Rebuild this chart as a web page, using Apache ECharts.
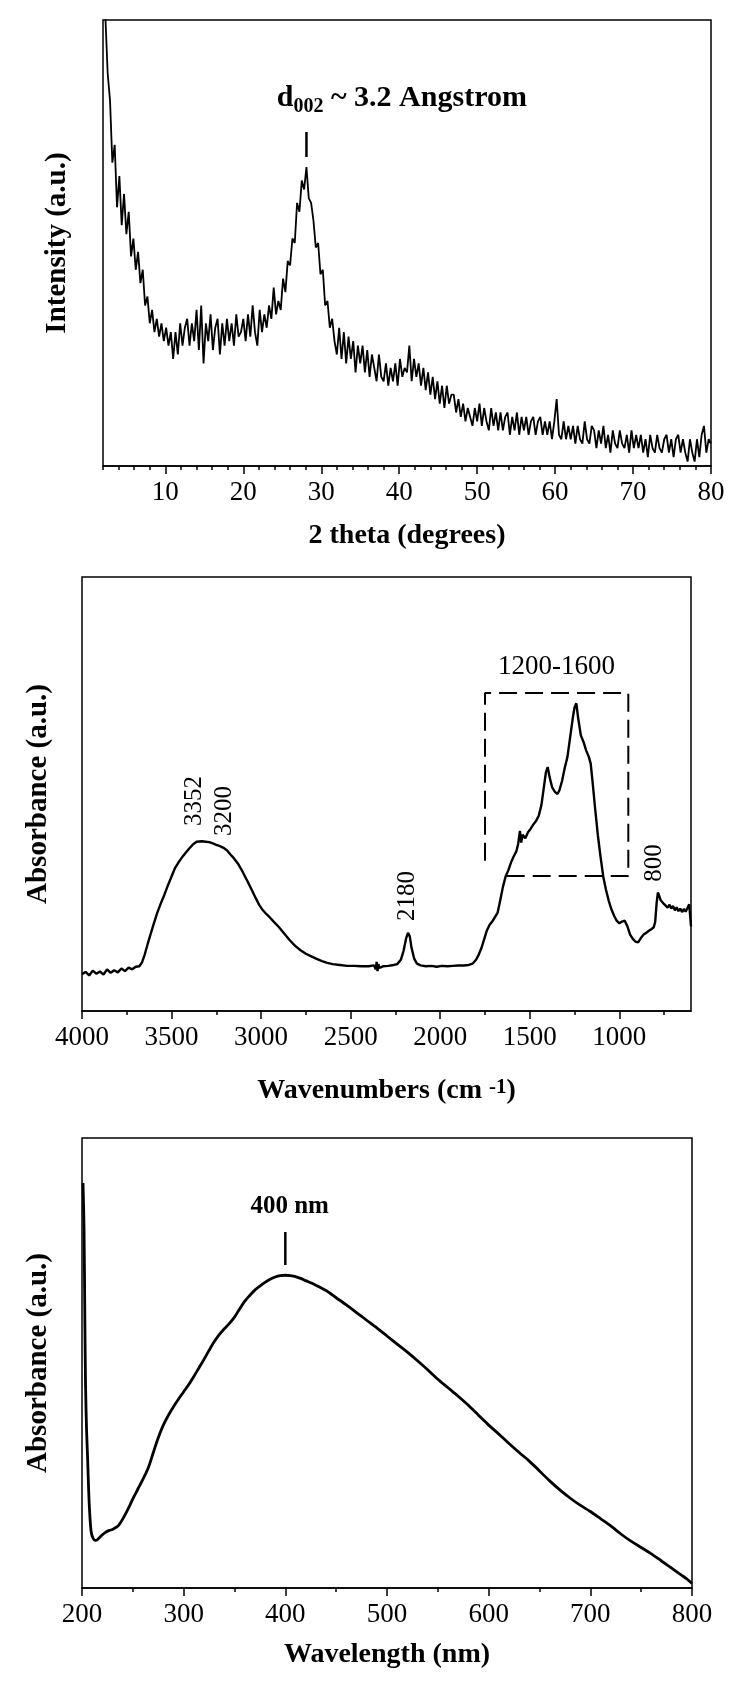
<!DOCTYPE html>
<html>
<head>
<meta charset="utf-8">
<script src="https://cdn.jsdelivr.net/npm/echarts@6/dist/echarts.min.js"></script>
<style>
html,body{margin:0;padding:0;background:#fff;}
#c{width:738px;height:1681px;}
</style>
</head>
<body>
<div id="c"></div>
<script>
// ---------- Panel 1: XRD ----------
const xrdStart = 2.0;
const xrdStep = 0.3;
const xrdIntensity = [
  130, 101, 88, 82, 68, 72, 58, 65, 54, 61,
  52, 57, 47, 51, 44, 48, 41, 44, 36, 38,
  32, 35, 30, 33, 29, 32, 28, 31, 27, 30,
  24, 30, 25, 32, 27, 31, 33, 27, 32, 28,
  35, 26, 36, 23, 32, 28, 34, 26, 31, 33,
  25, 32, 27, 33, 28, 32, 27, 34, 29, 30,
  33, 28, 34, 29, 36, 30, 27, 35, 30, 34,
  31, 36, 33, 40, 34, 37, 35, 42, 39, 46,
  45, 51, 50, 59, 57, 64, 62, 67, 60, 59,
  55, 49, 50, 43, 44, 36, 37, 31, 33, 28,
  25, 31, 24, 30, 23, 29, 24, 28, 21, 27,
  23, 27, 21, 26, 20, 25, 22, 19, 25, 20,
  19, 23, 18, 22, 19, 23, 18, 24, 20, 22,
  21, 27, 19, 24, 20, 23, 18, 22, 17, 21,
  16, 20, 15, 19, 14, 18, 13, 18, 14, 16,
  16, 12, 15, 11, 14, 10, 13, 11, 9, 13,
  10, 14, 9, 13, 10, 8, 13, 9, 12, 8,
  12, 8, 11, 12, 7, 11, 8, 12, 7, 11,
  8, 11, 7, 10, 11, 7, 10, 11, 7, 10,
  7, 10, 6, 10, 15, 7, 6, 10, 6, 9,
  6, 9, 5, 9, 6, 5, 10, 6, 5, 9,
  8, 4, 8, 5, 9, 4, 7, 3, 8, 5,
  4, 8, 5, 4, 7, 3, 8, 4, 7, 4,
  7, 3, 6, 2, 7, 4, 3, 7, 4, 3,
  6, 7, 3, 6, 2, 6, 7, 3, 6, 3,
  1, 6, 3, 1, 6, 2, 7, 9, 3, 6,
  5
];
const xrdTickLabels = [10, 20, 30, 40, 50, 60, 70, 80];
const xrdMinorTicks = [2, 4, 6, 8, 12, 14, 16, 18, 22, 24, 26, 28, 32, 34, 36, 38, 42, 44, 46, 48, 52, 54, 56, 58, 62, 64, 66, 68, 72, 74, 76, 78];
const xrdPeakMarker = [[28.1, 69.3], [28.1, 74.9]];
const xrdPeakLabelPos = [24.3, 82.5];

// ---------- Panel 2: FTIR ----------
const ftirWavenumber = [
  4000, 3980, 3960, 3940, 3920, 3900, 3880, 3860, 3840, 3820,
  3800, 3780, 3760, 3740, 3720, 3700, 3680, 3665, 3650, 3635,
  3620, 3600, 3580, 3560, 3540, 3520, 3500, 3480, 3460, 3440,
  3420, 3400, 3380, 3360, 3350, 3330, 3310, 3290, 3270, 3250,
  3230, 3210, 3190, 3170, 3150, 3130, 3110, 3090, 3070, 3050,
  3030, 3010, 2990, 2970, 2950, 2930, 2900, 2870, 2840, 2810,
  2780, 2750, 2720, 2690, 2660, 2630, 2600, 2560, 2520, 2480,
  2440, 2400, 2370, 2360, 2355, 2350, 2345, 2340, 2320, 2290,
  2260, 2240, 2220, 2205, 2190, 2180, 2170, 2160, 2145, 2130,
  2110, 2080, 2050, 2020, 1990, 1960, 1930, 1900, 1870, 1840,
  1820, 1800, 1785, 1770, 1755, 1740, 1725, 1710, 1695, 1680,
  1665, 1650, 1635, 1620, 1605, 1590, 1575, 1565, 1555, 1548,
  1540, 1525, 1510, 1495, 1480, 1465, 1450, 1435, 1420, 1410,
  1400, 1390, 1375, 1360, 1345, 1335, 1320, 1305, 1290, 1275,
  1260, 1250, 1240, 1230, 1215, 1200, 1185, 1170, 1160, 1150,
  1135, 1120, 1105, 1090, 1075, 1060, 1045, 1030, 1015, 1000,
  985, 970, 955, 940, 925, 910, 895, 880, 865, 850,
  835, 820, 808, 800, 792, 785, 778, 770, 760, 750,
  740, 730, 720, 710, 700, 690, 680, 670, 660, 650,
  640, 630, 620, 610, 605, 600
];
const ftirAbsorbance = [
  8.5, 9.0, 8.2, 9.3, 8.6, 9.1, 8.4, 9.6, 8.8, 9.4,
  8.9, 9.8, 9.2, 10.0, 9.6, 10.2, 10.3, 11.2, 13.0, 15.2,
  17.3, 20.0, 22.6, 24.8, 26.8, 29.0, 31.0, 33.0, 34.3, 35.5,
  36.5, 37.5, 38.4, 39.0, 39.2, 39.1, 39.0, 38.9, 38.6, 38.3,
  38.0, 37.6, 37.0, 36.0, 35.1, 34.0, 32.6, 31.0, 29.4, 27.7,
  26.0, 24.4, 23.2, 22.3, 21.5, 20.6, 19.3, 17.8, 16.3, 15.0,
  14.0, 13.2, 12.6, 12.0, 11.5, 11.1, 10.8, 10.6, 10.4, 10.4,
  10.3, 10.3, 10.5, 9.6, 11.3, 9.2, 10.8, 9.9, 10.3, 10.4,
  10.6, 10.8, 11.8, 13.8, 16.8, 18.0, 17.2, 14.5, 12.0, 10.9,
  10.5, 10.3, 10.4, 10.2, 10.4, 10.3, 10.4, 10.5, 10.5, 10.6,
  10.9, 11.8, 13.0, 14.5, 16.5, 18.5, 19.8, 20.6, 21.6, 22.6,
  25.5, 28.6, 31.0, 32.4, 34.2, 35.6, 36.8, 38.5, 41.5, 38.8,
  40.6, 39.8, 41.2, 42.0, 43.0, 43.8, 45.0, 47.5, 52.0, 55.0,
  56.2, 54.0, 51.5, 50.5, 50.0, 50.8, 53.0, 56.0, 58.5, 63.0,
  67.5, 70.0, 70.9, 67.5, 63.5, 62.0, 60.0, 58.5, 57.0, 53.0,
  46.5, 40.5, 35.5, 31.0, 28.0, 25.5, 23.5, 22.0, 20.8, 20.2,
  20.6, 20.8, 19.5, 17.6, 16.6, 16.0, 15.8, 16.8, 17.6, 18.0,
  18.5, 18.9, 19.3, 20.5, 24.8, 27.3, 26.6, 25.6, 25.2, 24.6,
  24.9, 23.8, 24.5, 23.6, 24.2, 23.2, 23.9, 23.0, 23.6, 22.8,
  23.5, 22.9, 23.7, 24.6, 24.9, 19.5
];
const ftirTickLabels = [4000, 3500, 3000, 2500, 2000, 1500, 1000];
const ftirMinorTicks = [3750, 3250, 2750, 2250, 1750, 1250, 750];
const ftirPeakLabels = ['3352', '3200', '2180', '800'];
const ftirPeakLabelPos = [[3370, 48.4], [3203, 46.1], [2182, 26.5], [805, 34.1]];
const ftirRangeLabel = '1200-1600';
const ftirRangeLabelPos = [1351, 79.3];
const ftirRangeBox = [[1750, 34.6], [1750, 73.3], [950, 73.3], [950, 31.1], [1640, 31.1]];

// ---------- Panel 3: UV-Vis ----------
const uvWavelength = [
  201, 202, 202.8, 203.5, 204.5, 205.5, 206.5, 207.5, 209, 211,
  213, 215, 218, 221, 224, 227, 230, 233, 236, 240,
  245, 250, 255, 260, 265, 270, 275, 280, 285, 290,
  295, 300, 305, 310, 315, 320, 325, 330, 335, 340,
  345, 350, 355, 360, 365, 370, 375, 380, 385, 390,
  395, 400, 405, 410, 415, 420, 430, 440, 450, 460,
  470, 480, 490, 500, 510, 520, 530, 540, 550, 560,
  570, 580, 590, 600, 610, 620, 630, 640, 650, 660,
  670, 680, 690, 700, 710, 720, 730, 740, 750, 760,
  770, 780, 790, 795, 800
];
const uvAbsorbance = [
  90.0, 80.0, 60.0, 45.0, 35.0, 29.0, 22.0, 17.0, 12.5, 11.0,
  10.6, 10.7, 11.4, 12.0, 12.5, 12.8, 13.0, 13.4, 13.9, 15.3,
  17.4, 19.8, 22.0, 24.2, 26.6, 30.0, 33.4, 36.2, 38.4, 40.3,
  42.0, 43.6, 45.2, 47.0, 48.9, 50.8, 52.8, 54.7, 56.3, 57.6,
  58.8, 60.2, 62.0, 63.7, 65.0, 66.2, 67.1, 67.9, 68.6, 69.1,
  69.4, 69.5, 69.4, 69.2, 68.8, 68.3, 67.3, 66.1, 64.5, 62.9,
  61.2, 59.5, 57.8, 56.0, 54.2, 52.4, 50.5, 48.5, 46.4, 44.5,
  42.6, 40.6, 38.4, 36.2, 34.2, 32.1, 30.1, 28.2, 26.0, 23.8,
  21.8, 20.0, 18.4, 17.0, 15.4, 13.8, 12.0, 10.4, 9.0, 7.6,
  6.0, 4.4, 2.8, 2.0, 1.0
];
const uvTickLabels = [200, 300, 400, 500, 600, 700, 800];
const uvMinorTicks = [250, 350, 450, 550, 650, 750];
const uvPeakMarker = [[400, 71.8], [400, 79.1]];
const uvPeakLabel = '400 nm';
const uvPeakLabelPos = [404.3, 84.7];

// ---------- build ----------
const FONT = 'Liberation Serif';
const BLACK = '#000';

const xrdData = xrdIntensity.map((v, i) => [+(xrdStart + i * xrdStep).toFixed(2), v]);
const ftirData = ftirWavenumber.map((w, i) => [w, ftirAbsorbance[i]]);
const uvData = uvWavelength.map((w, i) => [w, uvAbsorbance[i]]);

const grids = [
  {left: 103, top: 20, width: 608, height: 446},
  {left: 82, top: 577, width: 609, height: 434},
  {left: 82, top: 1138, width: 610, height: 450}
];

const titleStyle = {fontFamily: FONT, fontSize: 28, fontWeight: 'bold', color: BLACK};
const plainText = {textBorderWidth: 0, textBorderColor: 'transparent', textShadowBlur: 0, opacity: 1};

function majorX(g, min, max, inverse, ticks, name, nameGap, rich) {
  return {
    type: 'value', gridIndex: g, min: min, max: max, inverse: inverse, position: 'bottom',
    axisLine: {show: true, onZero: false, lineStyle: {color: BLACK, width: 1.5}},
    axisTick: {show: true, inside: false, length: 8, customValues: ticks, lineStyle: {color: BLACK, width: 1.5}},
    axisLabel: {show: true, customValues: ticks, margin: 13, color: BLACK, fontFamily: FONT, fontSize: 27,
      formatter: v => String(v)},
    splitLine: {show: false},
    name: name, nameLocation: 'middle', nameGap: nameGap,
    nameTextStyle: Object.assign({}, titleStyle, rich ? {rich: rich} : {})
  };
}
function minorX(g, min, max, inverse, ticks) {
  return {
    type: 'value', gridIndex: g, min: min, max: max, inverse: inverse, position: 'top',
    offset: -grids[g].height,
    axisLine: {show: false, onZero: false},
    axisTick: {show: true, inside: true, length: 4, customValues: ticks, lineStyle: {color: BLACK, width: 1.5}},
    axisLabel: {show: false},
    splitLine: {show: false}
  };
}
function yAx(g, name, gap) {
  return {
    type: 'value', gridIndex: g, min: 0, max: 100,
    axisLine: {show: false}, axisTick: {show: false}, axisLabel: {show: false}, splitLine: {show: false},
    name: name, nameLocation: 'middle', nameRotate: 90, nameGap: gap,
    nameTextStyle: Object.assign({}, titleStyle, {fontSize: 29})
  };
}

const option = {
  animation: false,
  backgroundColor: '#fff',
  grid: grids.map(g => Object.assign({show: true, borderColor: BLACK, borderWidth: 1.5, backgroundColor: 'transparent', containLabel: false}, g)),
  xAxis: [
    majorX(0, 2, 80, false, xrdTickLabels, '2 theta (degrees)', 56),
    minorX(0, 2, 80, false, xrdMinorTicks),
    majorX(1, 600, 4000, true, ftirTickLabels, 'Wavenumbers (cm {sup|-1})', 66,
      {sup: {fontFamily: FONT, fontSize: 21, fontWeight: 'bold', color: BLACK, verticalAlign: 'top', lineHeight: 18}}),
    minorX(1, 600, 4000, true, ftirMinorTicks),
    majorX(2, 200, 800, false, uvTickLabels, 'Wavelength (nm)', 53),
    minorX(2, 200, 800, false, uvMinorTicks)
  ],
  yAxis: [yAx(0, 'Intensity (a.u.)', 31), yAx(1, 'Absorbance (a.u.)', 29), yAx(2, 'Absorbance (a.u.)', 29)],
  series: [
    {type: 'line', xAxisIndex: 0, yAxisIndex: 0, data: xrdData, showSymbol: false, symbol: 'none', clip: true,
      lineStyle: {color: BLACK, width: 1.8}, silent: true},
    {type: 'line', xAxisIndex: 0, yAxisIndex: 0, data: xrdPeakMarker, symbol: 'none',
      lineStyle: {color: BLACK, width: 2.5}, silent: true},
    {type: 'scatter', xAxisIndex: 0, yAxisIndex: 0, data: [xrdPeakLabelPos], symbolSize: 0, silent: true,
      itemStyle: {color: BLACK},
      label: Object.assign({show: true, position: [0, 0], align: 'left', verticalAlign: 'middle',
        formatter: 'd{sub|002} ~ 3.2 Angstrom',
        fontFamily: FONT, fontSize: 30, fontWeight: 'bold', color: BLACK,
        rich: {sub: {fontFamily: FONT, fontSize: 20, fontWeight: 'bold', color: BLACK, padding: [18, 0, 0, 0]}}}, plainText)},

    {type: 'line', xAxisIndex: 2, yAxisIndex: 1, data: ftirData, showSymbol: false, symbol: 'none', clip: true,
      lineStyle: {color: BLACK, width: 2.4}, silent: true},
    {type: 'line', xAxisIndex: 2, yAxisIndex: 1, data: ftirRangeBox, symbol: 'none',
      lineStyle: {color: BLACK, width: 2, type: [18, 8]}, silent: true},
    {type: 'scatter', xAxisIndex: 2, yAxisIndex: 1, symbolSize: 0, silent: true, itemStyle: {color: BLACK},
      data: ftirPeakLabels.map((t, i) => ({value: ftirPeakLabelPos[i], name: t})),
      label: Object.assign({show: true, position: [0, 0], align: 'center', verticalAlign: 'middle', rotate: 90,
        formatter: p => p.name, fontFamily: FONT, fontSize: 25, color: BLACK}, plainText)},
    {type: 'scatter', xAxisIndex: 2, yAxisIndex: 1, symbolSize: 0, silent: true, itemStyle: {color: BLACK},
      data: [{value: ftirRangeLabelPos, name: ftirRangeLabel}],
      label: Object.assign({show: true, position: [0, 0], align: 'center', verticalAlign: 'middle',
        formatter: p => p.name, fontFamily: FONT, fontSize: 27, color: BLACK}, plainText)},

    {type: 'line', xAxisIndex: 4, yAxisIndex: 2, data: uvData, showSymbol: false, symbol: 'none', clip: true,
      smooth: 0.3, lineStyle: {color: BLACK, width: 2.8}, silent: true},
    {type: 'line', xAxisIndex: 4, yAxisIndex: 2, data: uvPeakMarker, symbol: 'none',
      lineStyle: {color: BLACK, width: 2.5}, silent: true},
    {type: 'scatter', xAxisIndex: 4, yAxisIndex: 2, symbolSize: 0, silent: true, itemStyle: {color: BLACK},
      data: [{value: uvPeakLabelPos, name: uvPeakLabel}],
      label: Object.assign({show: true, position: [0, 0], align: 'center', verticalAlign: 'middle',
        formatter: p => p.name, fontFamily: FONT, fontSize: 25, fontWeight: 'bold', color: BLACK}, plainText)}
  ]
};

const chart = echarts.init(document.getElementById('c'), null, {renderer: 'canvas'});
chart.setOption(option);
</script>
</body>
</html>
